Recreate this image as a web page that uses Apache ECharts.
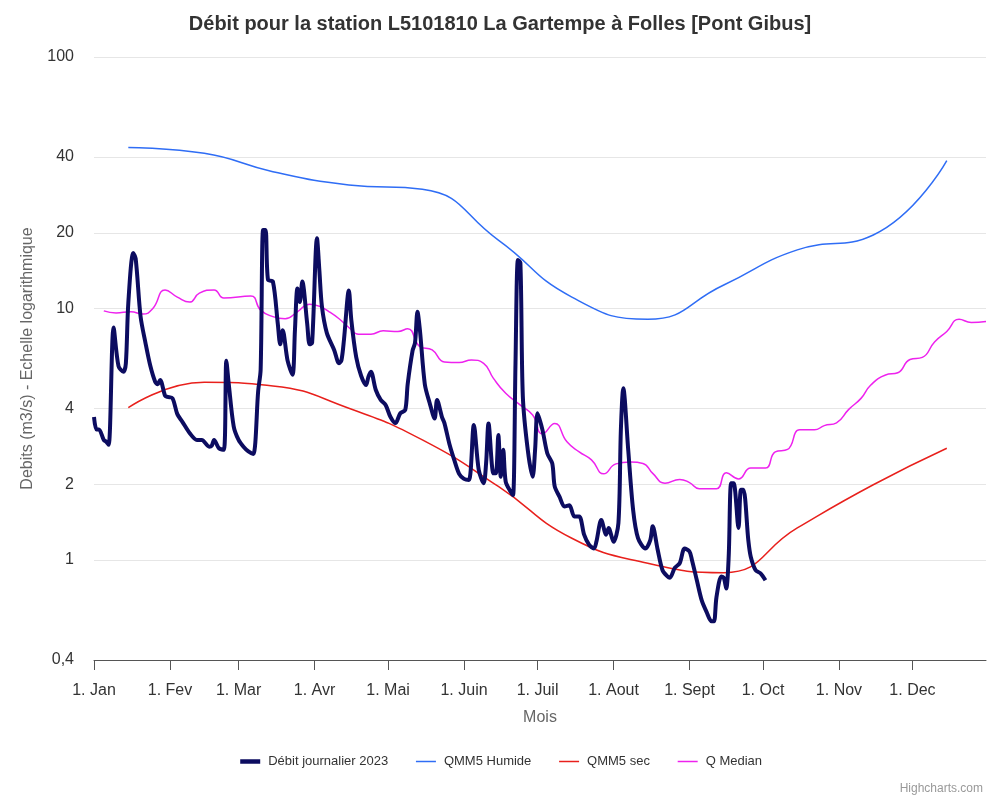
<!DOCTYPE html>
<html>
<head>
<meta charset="utf-8">
<script src="https://cdn.jsdelivr.net/npm/echarts@6/dist/echarts.min.js"></script>
<style>
html,body{margin:0;padding:0;background:#fff;}
#chart{width:1000px;height:800px;}
</style>
</head>
<body>
<div id="chart"></div>
<script>
// ---- Data ----
const monthLabels = ['1. Jan','1. Fev','1. Mar','1. Avr','1. Mai','1. Juin','1. Juil','1. Aout','1. Sept','1. Oct','1. Nov','1. Dec'];
const monthStartDays = [0,31,59,90,120,151,181,212,243,273,304,334];
const yTicks = [0.4, 1, 2, 4, 10, 20, 40, 100];

// Débit journalier 2023: day of year (0 = 1 Jan) and value (m3/s)
const flowDays = [0,1,2,4,5,6,8,10,12,13,14,16,17,19,21,23,25,26,27,29,30,32,34,36,39,42,44,47,48,49,51,53,54,55,57,59,61,63,65,67,68,69,70,71,73,75,76,77,79,81,82,83,84,85,87,88,89,91,92,93,95,98,100,101,102,104,105,107,109,111,112,113,115,117,119,121,123,125,127,128,130,131,132,133,135,137,139,140,142,143,145,147,149,151,153,155,157,159,160,161,163,164,165,166,167,168,170,171,172,173,174,175,177,179,180,181,183,185,187,188,190,192,194,196,198,200,202,204,205,207,209,210,212,214,215,216,218,220,222,225,227,228,230,232,234,235,237,239,241,243,244,246,248,250,252,253,254,256,257,258,259,260,261,263,264,265,267,268,270,272,274];
const flowValues = [3.7,3.3,3.3,3.0,2.95,2.87,8.4,5.9,5.6,6.05,10.5,16.6,15.8,9.3,7.3,5.9,5.1,5.0,5.2,4.5,4.45,4.4,3.8,3.55,3.2,3.0,3.0,2.82,2.84,3.0,2.78,2.74,6.2,5.0,3.4,3.0,2.82,2.7,2.64,4.7,5.7,20.5,20.5,13.0,12.8,8.7,7.2,8.2,6.2,5.45,8.2,12.0,10.6,12.8,8.7,7.2,7.3,19.0,14.0,10.2,8.0,6.84,6.05,6.24,7.5,11.8,9.0,6.4,5.4,4.96,5.36,5.6,4.74,4.33,4.13,3.7,3.5,3.83,3.95,5.0,6.8,7.3,9.7,8.2,5.0,4.2,3.65,4.33,3.7,3.5,2.9,2.5,2.2,2.1,2.08,3.44,2.28,2.02,2.42,3.49,2.21,2.21,3.14,2.14,2.74,2.05,1.87,1.81,6.05,15.6,15.2,4.46,2.74,2.14,2.74,3.83,3.29,2.65,2.42,1.96,1.78,1.63,1.65,1.49,1.49,1.26,1.15,1.11,1.18,1.44,1.26,1.34,1.18,1.4,3.29,4.82,2.74,1.58,1.22,1.11,1.2,1.36,1.1,0.91,0.86,0.85,0.93,0.97,1.11,1.08,1.0,0.83,0.69,0.62,0.57,0.57,0.71,0.86,0.85,0.77,1.03,2.02,2.02,1.34,1.9,1.9,1.2,1.03,0.91,0.885,0.83];

// Monthly reference curves (mid-month)
const qmmDays = [14,45,73,104,134,165,195,226,257,287,318,348];
const qmmHumide = [43.7,41.4,35.0,31.0,29.8,18.7,11.1,9.06,12.4,17.1,19.6,38.7];
const qmmSec = [4.03,5.09,4.92,4.01,3.0,1.96,1.22,0.97,0.89,1.34,1.99,2.78];

// Q Median
const medianDays = [4,9,15,20,24,29,34,39,43,49,53,64,68,73,78,83,88,92,96,100,104,108,113,118,124,128,133,138,143,149,154,159,163,168,174,179,183,188,193,198,203,208,213,219,224,228,233,239,243,247,254,258,263,268,274,278,283,288,294,298,303,308,313,317,323,328,333,338,343,348,353,358,364];
const medianValues = [9.78,9.6,9.7,9.5,10.0,11.85,11.1,10.6,11.5,11.85,11.0,11.2,9.85,9.28,9.1,9.7,10.4,10.2,9.7,9.1,8.4,7.9,7.9,8.15,8.1,8.3,7.05,6.84,6.13,6.1,6.24,6.05,5.27,4.6,4.13,3.77,3.17,3.49,2.95,2.69,2.5,2.2,2.41,2.45,2.42,2.21,2.02,2.09,2.03,1.92,1.92,2.22,2.1,2.32,2.32,2.69,2.75,3.29,3.29,3.42,3.51,3.97,4.39,4.96,5.44,5.55,6.27,6.39,7.36,8.1,9.06,8.8,8.87];

// ---- Build ----
const pairs = (days, vals) => days.map((d, i) => [d, vals[i]]);

const FONT = 'Liberation Sans, Arial, sans-serif';
const chart = echarts.init(document.getElementById('chart'));
chart.setOption({
  animation: false,
  backgroundColor: '#ffffff',
  textStyle: { fontFamily: FONT },
  title: [
    { text: 'Débit pour la station L5101810 La Gartempe à Folles [Pont Gibus]', left: 'center', top: 9,
      textStyle: { fontFamily: FONT, fontSize: 20, fontWeight: 'bold', color: '#333333' } },
    { text: 'Highcharts.com', right: 12, bottom: 0,
      textStyle: { fontFamily: FONT, fontSize: 12, fontWeight: 'normal', color: '#999999' } }
  ],
  legend: {
    bottom: 27, left: 'center', itemWidth: 20, itemHeight: 10, itemGap: 27,
    itemStyle: { opacity: 0 },
    textStyle: { fontFamily: FONT, fontSize: 13, color: '#333333', padding: [0, 0, 0, 3] },
    data: [
      { name: 'Débit journalier 2023', lineStyle: { width: 4.5 } },
      { name: 'QMM5 Humide', lineStyle: { width: 1.5 } },
      { name: 'QMM5 sec', lineStyle: { width: 1.5 } },
      { name: 'Q Median', lineStyle: { width: 1.5 } }
    ]
  },
  grid: { left: 94, right: 14, top: 57, bottom: 140, containLabel: false },
  xAxis: {
    type: 'value',
    min: 0, max: 364,
    name: 'Mois', nameLocation: 'middle', nameGap: 50,
    nameTextStyle: { fontFamily: FONT, fontSize: 16, color: '#666666' },
    axisLine: { show: true, lineStyle: { color: '#555555', width: 1 } },
    axisTick: { show: true, length: 10, lineStyle: { color: '#555555' }, customValues: monthStartDays },
    axisLabel: {
      customValues: monthStartDays, margin: 23, fontSize: 16, color: '#333333', fontFamily: FONT,
      formatter: v => monthLabels[monthStartDays.indexOf(Math.round(v))] || ''
    },
    splitLine: { show: false }
  },
  yAxis: {
    type: 'log', logBase: 10, min: 0.4, max: 100,
    name: 'Debits (m3/s) - Echelle logarithmique', nameLocation: 'middle', nameGap: 58, nameRotate: 90,
    nameTextStyle: { fontFamily: FONT, fontSize: 16, color: '#666666' },
    axisLine: { show: false },
    axisTick: { show: false, customValues: yTicks },
    axisLabel: {
      customValues: yTicks, margin: 20, fontSize: 16, color: '#333333', fontFamily: FONT,
      formatter: v => String(+(+v).toPrecision(6)).replace('.', ',')
    },
    splitLine: { show: true, lineStyle: { color: '#e6e6e6', width: 1 } }
  },
  series: [
    { name: 'Débit journalier 2023', type: 'line', data: pairs(flowDays, flowValues),
      showSymbol: false, symbol: 'none', smooth: 0.3, lineStyle: { color: '#0c0c60', width: 4 }, itemStyle: { color: '#0c0c60' }, z: 5 },
    { name: 'QMM5 Humide', type: 'line', data: pairs(qmmDays, qmmHumide),
      showSymbol: false, symbol: 'none', smooth: 0.5, lineStyle: { color: '#2f6df5', width: 1.5 }, itemStyle: { color: '#2f6df5' } },
    { name: 'QMM5 sec', type: 'line', data: pairs(qmmDays, qmmSec),
      showSymbol: false, symbol: 'none', smooth: 0.5, lineStyle: { color: '#e8201c', width: 1.5 }, itemStyle: { color: '#e8201c' } },
    { name: 'Q Median', type: 'line', data: pairs(medianDays, medianValues),
      showSymbol: false, symbol: 'none', smooth: 0.5, lineStyle: { color: '#ee22ee', width: 1.5 }, itemStyle: { color: '#ee22ee' } }
  ]
});
</script>
</body>
</html>
